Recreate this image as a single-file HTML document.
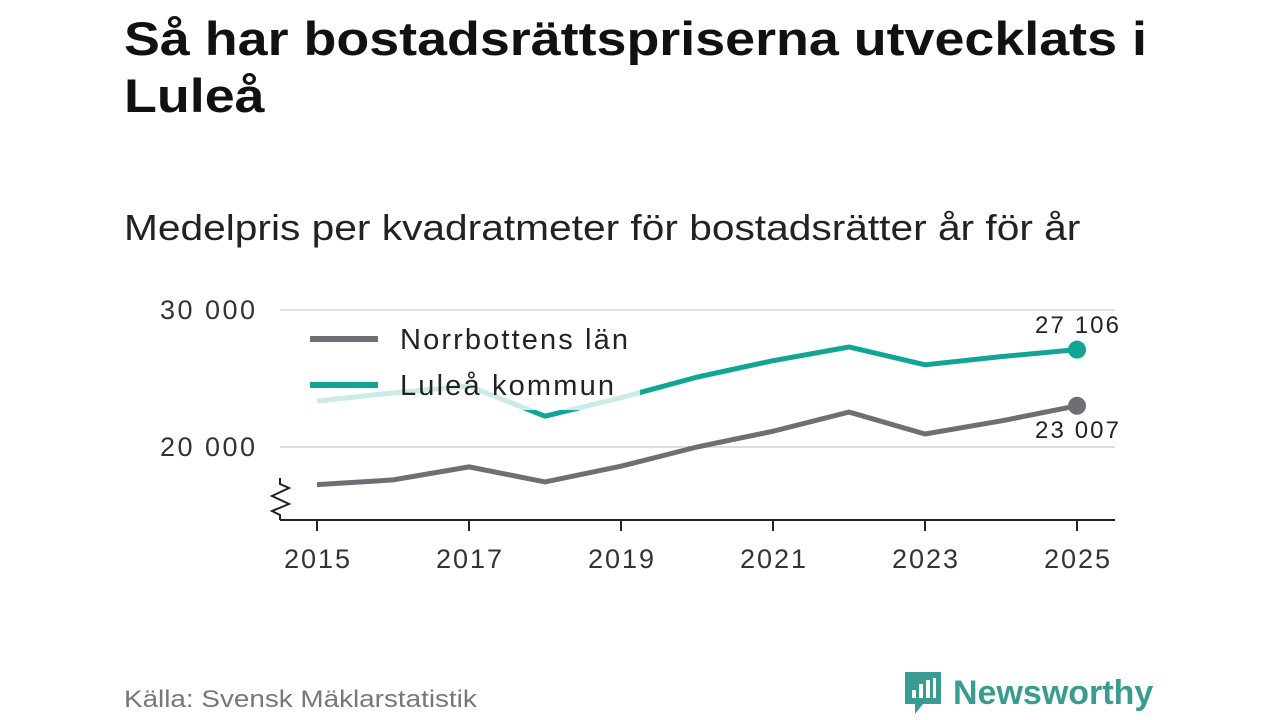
<!DOCTYPE html>
<html><head><meta charset="utf-8"><style>
body{margin:0;width:1280px;height:720px;background:#fff;font-family:"Liberation Sans",sans-serif;overflow:hidden;position:relative}
h1{position:absolute;left:124px;top:10px;margin:0;font-size:47px;line-height:57px;font-weight:bold;color:#111;white-space:nowrap;transform:scaleX(1.145);transform-origin:left top}
.sub{position:absolute;left:124px;top:207px;font-size:36px;color:#222;white-space:nowrap;transform:scaleX(1.13);transform-origin:left top}
.src{position:absolute;left:124px;top:686px;font-size:24px;color:#777;white-space:nowrap;transform:scaleX(1.16);transform-origin:left top}
.logo{position:absolute;left:903px;top:670px;display:flex;align-items:center}
.logo span{font-size:34px;font-weight:bold;color:#3a9c90;margin-left:10px}
</style></head><body>
<h1>Så har bostadsrättspriserna utvecklats i<br>Luleå</h1>
<div class="sub">Medelpris per kvadratmeter för bostadsrätter år för år</div>
<svg width="1280" height="720" style="position:absolute;left:0;top:0">
<g id="grid"></g><g id="lines"></g><g id="legend"></g><g id="labels"></g>
</svg>
<div class="src">Källa: Svensk Mäklarstatistik</div>
<div class="logo">
<svg width="40" height="46" viewBox="0 0 40 46"><path d="M2 2h36v32H20l-8 10v-10H2z" fill="#3a9c90"/><rect x="9" y="20" width="4" height="8" fill="#fff"/><rect x="16" y="14" width="4" height="14" fill="#fff"/><rect x="23" y="10" width="4" height="18" fill="#fff"/><rect x="30" y="8" width="3" height="20" fill="#fff"/></svg>
<span>Newsworthy</span></div>
<script>
const years=[2015,2016,2017,2018,2019,2020,2021,2022,2023,2024,2025];
const norrbotten=[17250,17600,18550,17450,18600,20000,21150,22550,20950,21900,23007];
const lulea=[23350,23950,24450,22250,23600,25100,26300,27300,26000,26600,27106];
const yTicks=[20000,30000];
const xTicks=[2015,2017,2019,2021,2023,2025];
const NS="http://www.w3.org/2000/svg";
const x=v=>317+(v-2015)*76;
const y=v=>447-(v-20000)*0.0137;
function mk(p,t,a){const e=document.createElementNS(NS,t);for(const k in a)e.setAttribute(k,a[k]);p.appendChild(e);return e;}
const fmt=v=>String(v).replace(/\B(?=(\d{3})+(?!\d))/g," ");
const G=document.getElementById('grid'),L=document.getElementById('lines'),LG=document.getElementById('legend'),LB=document.getElementById('labels');
yTicks.forEach(t=>{
 const l=mk(G,'line',{x1:280,x2:1115,y1:y(t),y2:y(t),stroke:'#ddd','stroke-width':2});
 
 
 const tx=mk(G,'text',{x:255,y:y(t)+9,'text-anchor':'end','font-size':27,fill:'#333','textLength':95});tx.textContent=fmt(t);
 
 
});
const ax=mk(G,'line',{x1:280,x2:1115,y1:520,y2:520,stroke:'#222','stroke-width':2});


const zz=mk(G,'path',{d:'M280 478 L280 484 L289 488 L272 496 L289 504 L272 511 L280 515 L280 520',fill:'none',stroke:'#222','stroke-width':2});


xTicks.forEach(t=>{
 mk(G,'line',{x1:x(t),x2:x(t),y1:520,y2:531,stroke:'#222','stroke-width':2});
 const tx=mk(G,'text',{x:x(t),y:568,'text-anchor':'middle','font-size':27,fill:'#333','textLength':66});tx.textContent=t;
 
 
});
function series(vals,col,name){
 const p=mk(L,'polyline',{points:vals.map((v,i)=>x(years[i])+','+y(v)).join(' '),fill:'none',stroke:col,'stroke-width':5,'stroke-linejoin':'round'});
 
 
 const c=mk(L,'circle',{cx:x(years[years.length-1]),cy:y(vals[vals.length-1]),r:9,fill:col});
 
 
}
series(norrbotten,'#6f6e75','norrbotten');
series(lulea,'#12a596','lulea');
mk(LG,'rect',{x:295,y:318,width:345,height:92,fill:'#fff','fill-opacity':0.78});
[['Norrbottens län','#6f6e75',339,228],['Luleå kommun','#12a596',385,214]].forEach(([n,c,yy,w])=>{
 mk(LG,'line',{x1:310,x2:378,y1:yy,y2:yy,stroke:c,'stroke-width':6});
 const t=mk(LG,'text',{x:400,y:yy+10,'font-size':29,fill:'#222','textLength':w});t.textContent=n;
 
 
});
const a=mk(LB,'text',{x:1077,y:333,'text-anchor':'middle','font-size':24,fill:'#222','textLength':84});a.textContent=fmt(lulea[10]);


const b=mk(LB,'text',{x:1077,y:438,'text-anchor':'middle','font-size':24,fill:'#222','textLength':84});b.textContent=fmt(norrbotten[10]);


</script>
</body></html>
